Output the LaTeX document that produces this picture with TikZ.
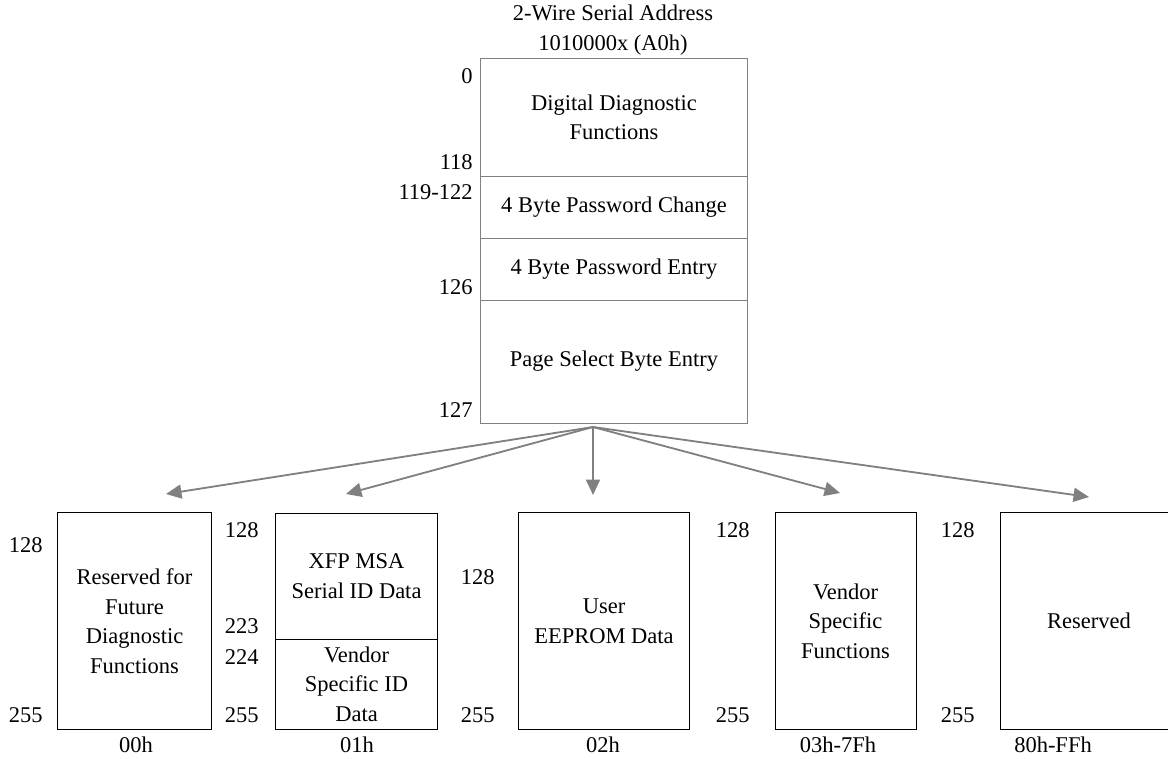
\documentclass[tikz,border=0pt]{standalone}
\usepackage{fontspec}
\setmainfont{Liberation Serif}
\usetikzlibrary{arrows.meta}
\begin{document}
\begin{tikzpicture}[x=0.025cm,y=-0.025cm,
    font=\fontsize{16pt}{21pt}\selectfont,
    topbox/.style={draw=gray,line width=0.7pt,inner sep=0pt,outer sep=0pt,
      minimum width=6.65cm,align=center},
    pagebox/.style={draw=black,line width=0.7pt,inner sep=0pt,outer sep=0pt,
      minimum height=5.4cm,align=center},
    num/.style={anchor=east,inner sep=0pt},
    fan/.style={draw=gray,line width=1.3pt,-{Triangle[length=11pt,width=10pt]}}]
  \useasboundingbox (0,0) rectangle (1168,758);
  \clip (0,0) rectangle (1168,758);
  % lower memory map (A0h)
  \node[align=center] (title) at (613,30) {2-Wire Serial Address\\1010000x (A0h)};
  \node[topbox,minimum height=2.925cm] (diag) at (614,117.5) {Digital Diagnostic\\Functions};
  \node[topbox,minimum height=1.55cm] (pwchg) at (614,207) {4 Byte Password Change};
  \node[topbox,minimum height=1.55cm] (pwent) at (614,269) {4 Byte Password Entry};
  \node[topbox,minimum height=3.075cm] (pgsel) at (614,361.5) {Page Select Byte Entry};
  \node[num] (a0) at (473,76) {0};
  \node[num] (a118) at (473,162) {118};
  \node[num] (a119) at (473,192) {119-122};
  \node[num] (a126) at (473,287) {126};
  \node[num] (a127) at (473,410) {127};
  % upper pages
  \node[pagebox,minimum width=3.825cm] (p00) at (134.5,621) {Reserved for\\Future\\Diagnostic\\Functions};
  \node[pagebox,minimum width=4.025cm,minimum height=3.15cm] (p01a) at (356.5,576) {XFP MSA\\Serial ID Data};
  \node[pagebox,minimum width=4.025cm,minimum height=2.25cm] (p01b) at (356.5,684) {Vendor\\Specific ID\\Data};
  \node[pagebox,minimum width=4.25cm] (p02) at (604,621) {User\\EEPROM Data};
  \node[pagebox,minimum width=3.525cm] (p03) at (845.5,621) {Vendor\\Specific\\Functions};
  \node[pagebox,minimum width=4.45cm] (p80) at (1089,621) {Reserved};
  % byte offsets
  \node[num] (b00a) at (43,545) {128};
  \node[num] (b00b) at (43,715) {255};
  \node[num] (b01a) at (259,530) {128};
  \node[num] (b01b) at (259,626) {223};
  \node[num] (b01c) at (259,657) {224};
  \node[num] (b01d) at (259,715) {255};
  \node[num] (b02a) at (495,577) {128};
  \node[num] (b02b) at (495,715) {255};
  \node[num] (b03a) at (750,530) {128};
  \node[num] (b03b) at (750,715) {255};
  \node[num] (b80a) at (975,530) {128};
  \node[num] (b80b) at (975,715) {255};
  % page numbers
  \node (n00) at (136,745) {00h};
  \node (n01) at (357,745) {01h};
  \node (n02) at (603,745) {02h};
  \node (n03) at (838,745) {03h-7Fh};
  \node (n80) at (1053,745) {80h-FFh};
  % page select fan-out
  \coordinate (src) at (593,427);
  \coordinate (t00) at (166,494);
  \coordinate (t01) at (346,494);
  \coordinate (t02) at (593,495);
  \coordinate (t03) at (840,493);
  \coordinate (t80) at (1089,497);
  \foreach \t in {t00,t01,t02,t03,t80}
    \draw[fan] (src) -- (\t);
\end{tikzpicture}
\end{document}
